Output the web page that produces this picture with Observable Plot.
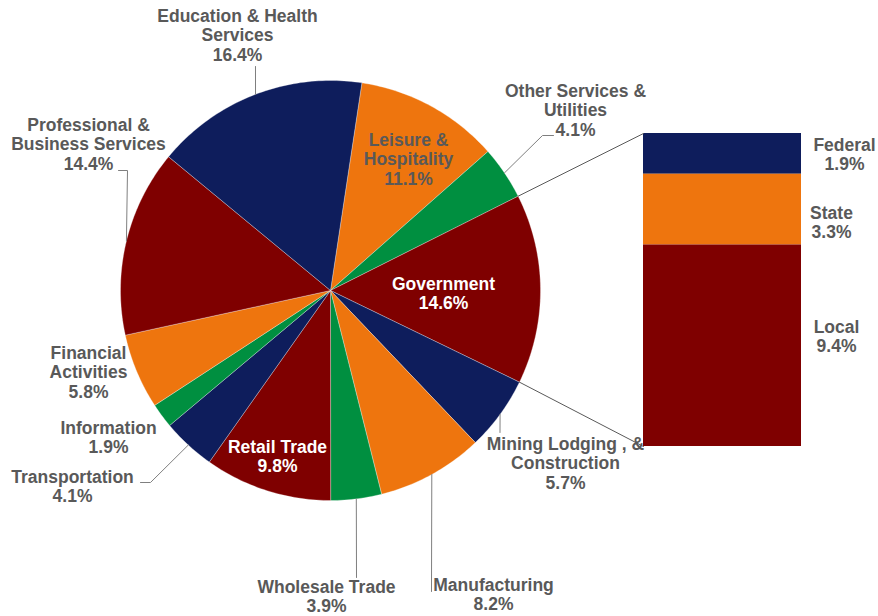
<!DOCTYPE html>
<html><head><meta charset="utf-8">
<script src="https://cdn.jsdelivr.net/npm/d3@7"></script>
<script src="https://cdn.jsdelivr.net/npm/@observablehq/plot@0.6"></script>
<style>html,body{margin:0;padding:0;background:#fff}</style>
</head><body><div id="chart"></div>
<script>
// ---- data ----
const NAVY = "#0E1D5C", ORANGE = "#EE750E", GREEN = "#008F40", RED = "#7F0000";
const sectors = ["Leisure & Hospitality", "Other Services & Utilities", "Government", "Mining Lodging , & Construction", "Manufacturing", "Wholesale Trade", "Retail Trade", "Transportation", "Information", "Financial Activities", "Professional & Business Services", "Education & Health Services"];
const sectorLabels = ["Leisure &\nHospitality", "Other Services &\nUtilities", "Government", "Mining Lodging , &\nConstruction", "Manufacturing", "Wholesale Trade", "Retail Trade", "Transportation", "Information", "Financial\nActivities", "Professional &\nBusiness Services", "Education & Health\nServices"];
const shares = [11.1, 4.1, 14.6, 5.7, 8.2, 3.9, 9.8, 4.1, 1.9, 5.8, 14.4, 16.4];
const sectorColors = [ORANGE, GREEN, RED, NAVY, ORANGE, GREEN, RED, NAVY, GREEN, ORANGE, RED, NAVY];
const govParts = ["Federal", "State", "Local"];
const govShares = [1.9, 3.3, 9.4];
const govColors = [NAVY, ORANGE, RED];

// ---- layout ----
const W = 878, H = 616;
const cx = 330, cy = 290, R = 210, startDeg = 8.6;
const barL = 643, barR = 801, barT = 133, barB = 446;
const LH = 19.6, FS = 17.5;
const TEXT = "#595959";
// label placement: [center x, first-line center y, color, leader extra points]
const labelLayout = [
  [408, 139, TEXT, null],
  [575, 90, TEXT, [[542, 135], [553, 135]]],
  [443, 283, "#ffffff", null],
  [565, 443, TEXT, [[499.5, 432]]],
  [493, 584, TEXT, [[431, 591]]],
  [326, 586, TEXT, [[356, 577]]],
  [277, 446, "#ffffff", null],
  [72, 476, TEXT, [[150, 482], [140, 482]]],
  [108, 427, TEXT, null],
  [88, 352, TEXT, null],
  [88, 124, TEXT, [[127, 170], [118, 170]]],
  [237, 15, TEXT, [[255, 66]]]
];
const govLayout = [[844, 144], [831, 212], [836, 326]];

// ---- geometry from data ----
const pie = d3.pie().sort(null).value(d => d)
  .startAngle(startDeg * Math.PI / 180).endAngle(startDeg * Math.PI / 180 + 2 * Math.PI);
const arcs = pie(shares);
const px = a => cx + R * Math.sin(a), py = a => cy - R * Math.cos(a);

const slicePts = [];
arcs.forEach((a, i) => {
  const n = Math.max(2, Math.ceil((a.endAngle - a.startAngle) / (Math.PI / 180)));
  slicePts.push({k: i, x: cx, y: cy, c: sectorColors[i]});
  for (let j = 0; j <= n; j++) {
    const t = a.startAngle + (a.endAngle - a.startAngle) * j / n;
    slicePts.push({k: i, x: px(t), y: py(t), c: sectorColors[i]});
  }
  slicePts.push({k: i, x: cx, y: cy, c: sectorColors[i]});
});

const labels = arcs.map((a, i) => {
  const [lx, ly, col] = labelLayout[i];
  const text = sectorLabels[i] + "\n" + shares[i].toFixed(1) + "%";
  const n = text.split("\n").length;
  return {x: lx, y: ly + (n - 1) * LH / 2, text, col};
});

const leaderPts = [];
arcs.forEach((a, i) => {
  const extra = labelLayout[i][3];
  if (!extra) return;
  const m = (a.startAngle + a.endAngle) / 2;
  leaderPts.push({k: i, x: px(m), y: py(m)});
  extra.forEach(p => leaderPts.push({k: i, x: p[0], y: p[1]}));
});

const gi = sectors.indexOf("Government");
const gArc = arcs[gi];
const connPts = [
  {k: 0, x: px(gArc.startAngle), y: py(gArc.startAngle)}, {k: 0, x: barL, y: barT},
  {k: 1, x: px(gArc.endAngle), y: py(gArc.endAngle)}, {k: 1, x: barL, y: barB}
];

const govTotal = d3.sum(govShares);
let cum = 0;
const bars = govShares.map((v, i) => {
  const y1 = barT + cum / govTotal * (barB - barT);
  cum += v;
  const y2 = barT + cum / govTotal * (barB - barT);
  return {y1, y2, c: govColors[i], text: govParts[i] + "\n" + v.toFixed(1) + "%", tx: govLayout[i][0], ty: govLayout[i][1] + LH / 2};
});

const font = {fontSize: FS, fontWeight: "bold", fontFamily: "Liberation Sans, Arial, sans-serif", lineHeight: LH / FS, lineAnchor: "middle", textAnchor: "middle"};

const chart = Plot.plot({
  width: W, height: H,
  margin: 0,
  x: {type: "linear", domain: [0, W], range: [0, W], axis: null},
  y: {type: "linear", domain: [0, H], range: [0, H], axis: null},
  color: {type: "identity"},
  style: {background: "#fff"},
  marks: [
    Plot.line(slicePts, {x: "x", y: "y", z: "k", fill: "c", stroke: "#ffffff", strokeWidth: 0.5, strokeOpacity: 0.6, curve: "linear"}),
    Plot.rect(bars, {x1: () => barL, x2: () => barR, y1: "y1", y2: "y2", fill: "c"}),
    Plot.line(connPts, {x: "x", y: "y", z: "k", stroke: "#595959", strokeWidth: 1}),
    Plot.line(leaderPts, {x: "x", y: "y", z: "k", stroke: "#7f7f7f", strokeWidth: 1}),
    Plot.text(labels, {x: "x", y: "y", text: "text", fill: "col", ...font}),
    Plot.text(bars, {x: "tx", y: "ty", text: "text", fill: TEXT, ...font})
  ]
});
document.getElementById("chart").appendChild(chart);
</script>
</body></html>
